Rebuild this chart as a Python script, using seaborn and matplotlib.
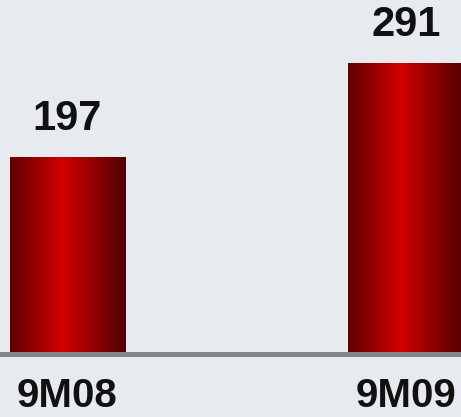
import matplotlib
matplotlib.use("Agg")
import matplotlib.pyplot as plt
import numpy as np
import pandas as pd
import seaborn as sns
from matplotlib.colors import LinearSegmentedColormap

# --- data ---
periods = ["9M08", "9M09"]
values = [197, 291]

BG = "#e7eaee"
BAR_CMAP = LinearSegmentedColormap.from_list(
    "bar_red", [(0.0, "#5e0000"), (0.45, "#d20000"), (1.0, "#520000")])

sns.set_theme(style="white")
plt.rcParams["font.family"] = ["Liberation Sans", "DejaVu Sans"]

df = pd.DataFrame({"period": periods, "value": values})

fig = plt.figure(figsize=(4.61, 4.17), dpi=100)
fig.patch.set_facecolor(BG)
ax = fig.add_axes([0, 0, 1, 1])
ax.set_facecolor(BG)

sns.barplot(data=df, x="period", y="value", width=0.34, color="#c00000",
            ax=ax, zorder=2)

# horizontal gradient fill, clipped to each bar
grad = np.linspace(0, 1, 256).reshape(1, -1)
for patch in ax.patches:
    x0, y0 = patch.get_x(), patch.get_y()
    w, h = patch.get_width(), patch.get_height()
    im = ax.imshow(grad, cmap=BAR_CMAP, aspect="auto",
                   extent=[x0, x0 + w, y0, y0 + h], zorder=2,
                   interpolation="bicubic")
    im.set_clip_path(patch)
    patch.set_facecolor("none")
    patch.set_edgecolor("none")

ax.set_xlim(-0.199, 1.1625)
ax.set_ylim(-63, 354)

ax.axhline(0, color="#858585", linewidth=3.6, zorder=3)

ax.bar_label(ax.containers[0], labels=[str(v) for v in values],
             padding=13, fontsize=30, fontweight="bold", color="#111111")

ax.set_xlabel("")
ax.set_ylabel("")
ax.set_yticks([])
# category labels sit inside the axes, baseline just above the bottom edge
ax.tick_params(axis="x", length=0, pad=-7.5, labelsize=29, labelcolor="#111111")
for lbl in ax.get_xticklabels():
    lbl.set_fontweight("bold")
    lbl.set_verticalalignment("baseline")
sns.despine(ax=ax, left=True, bottom=True)

fig.savefig("out.png", dpi=100, facecolor=BG)
